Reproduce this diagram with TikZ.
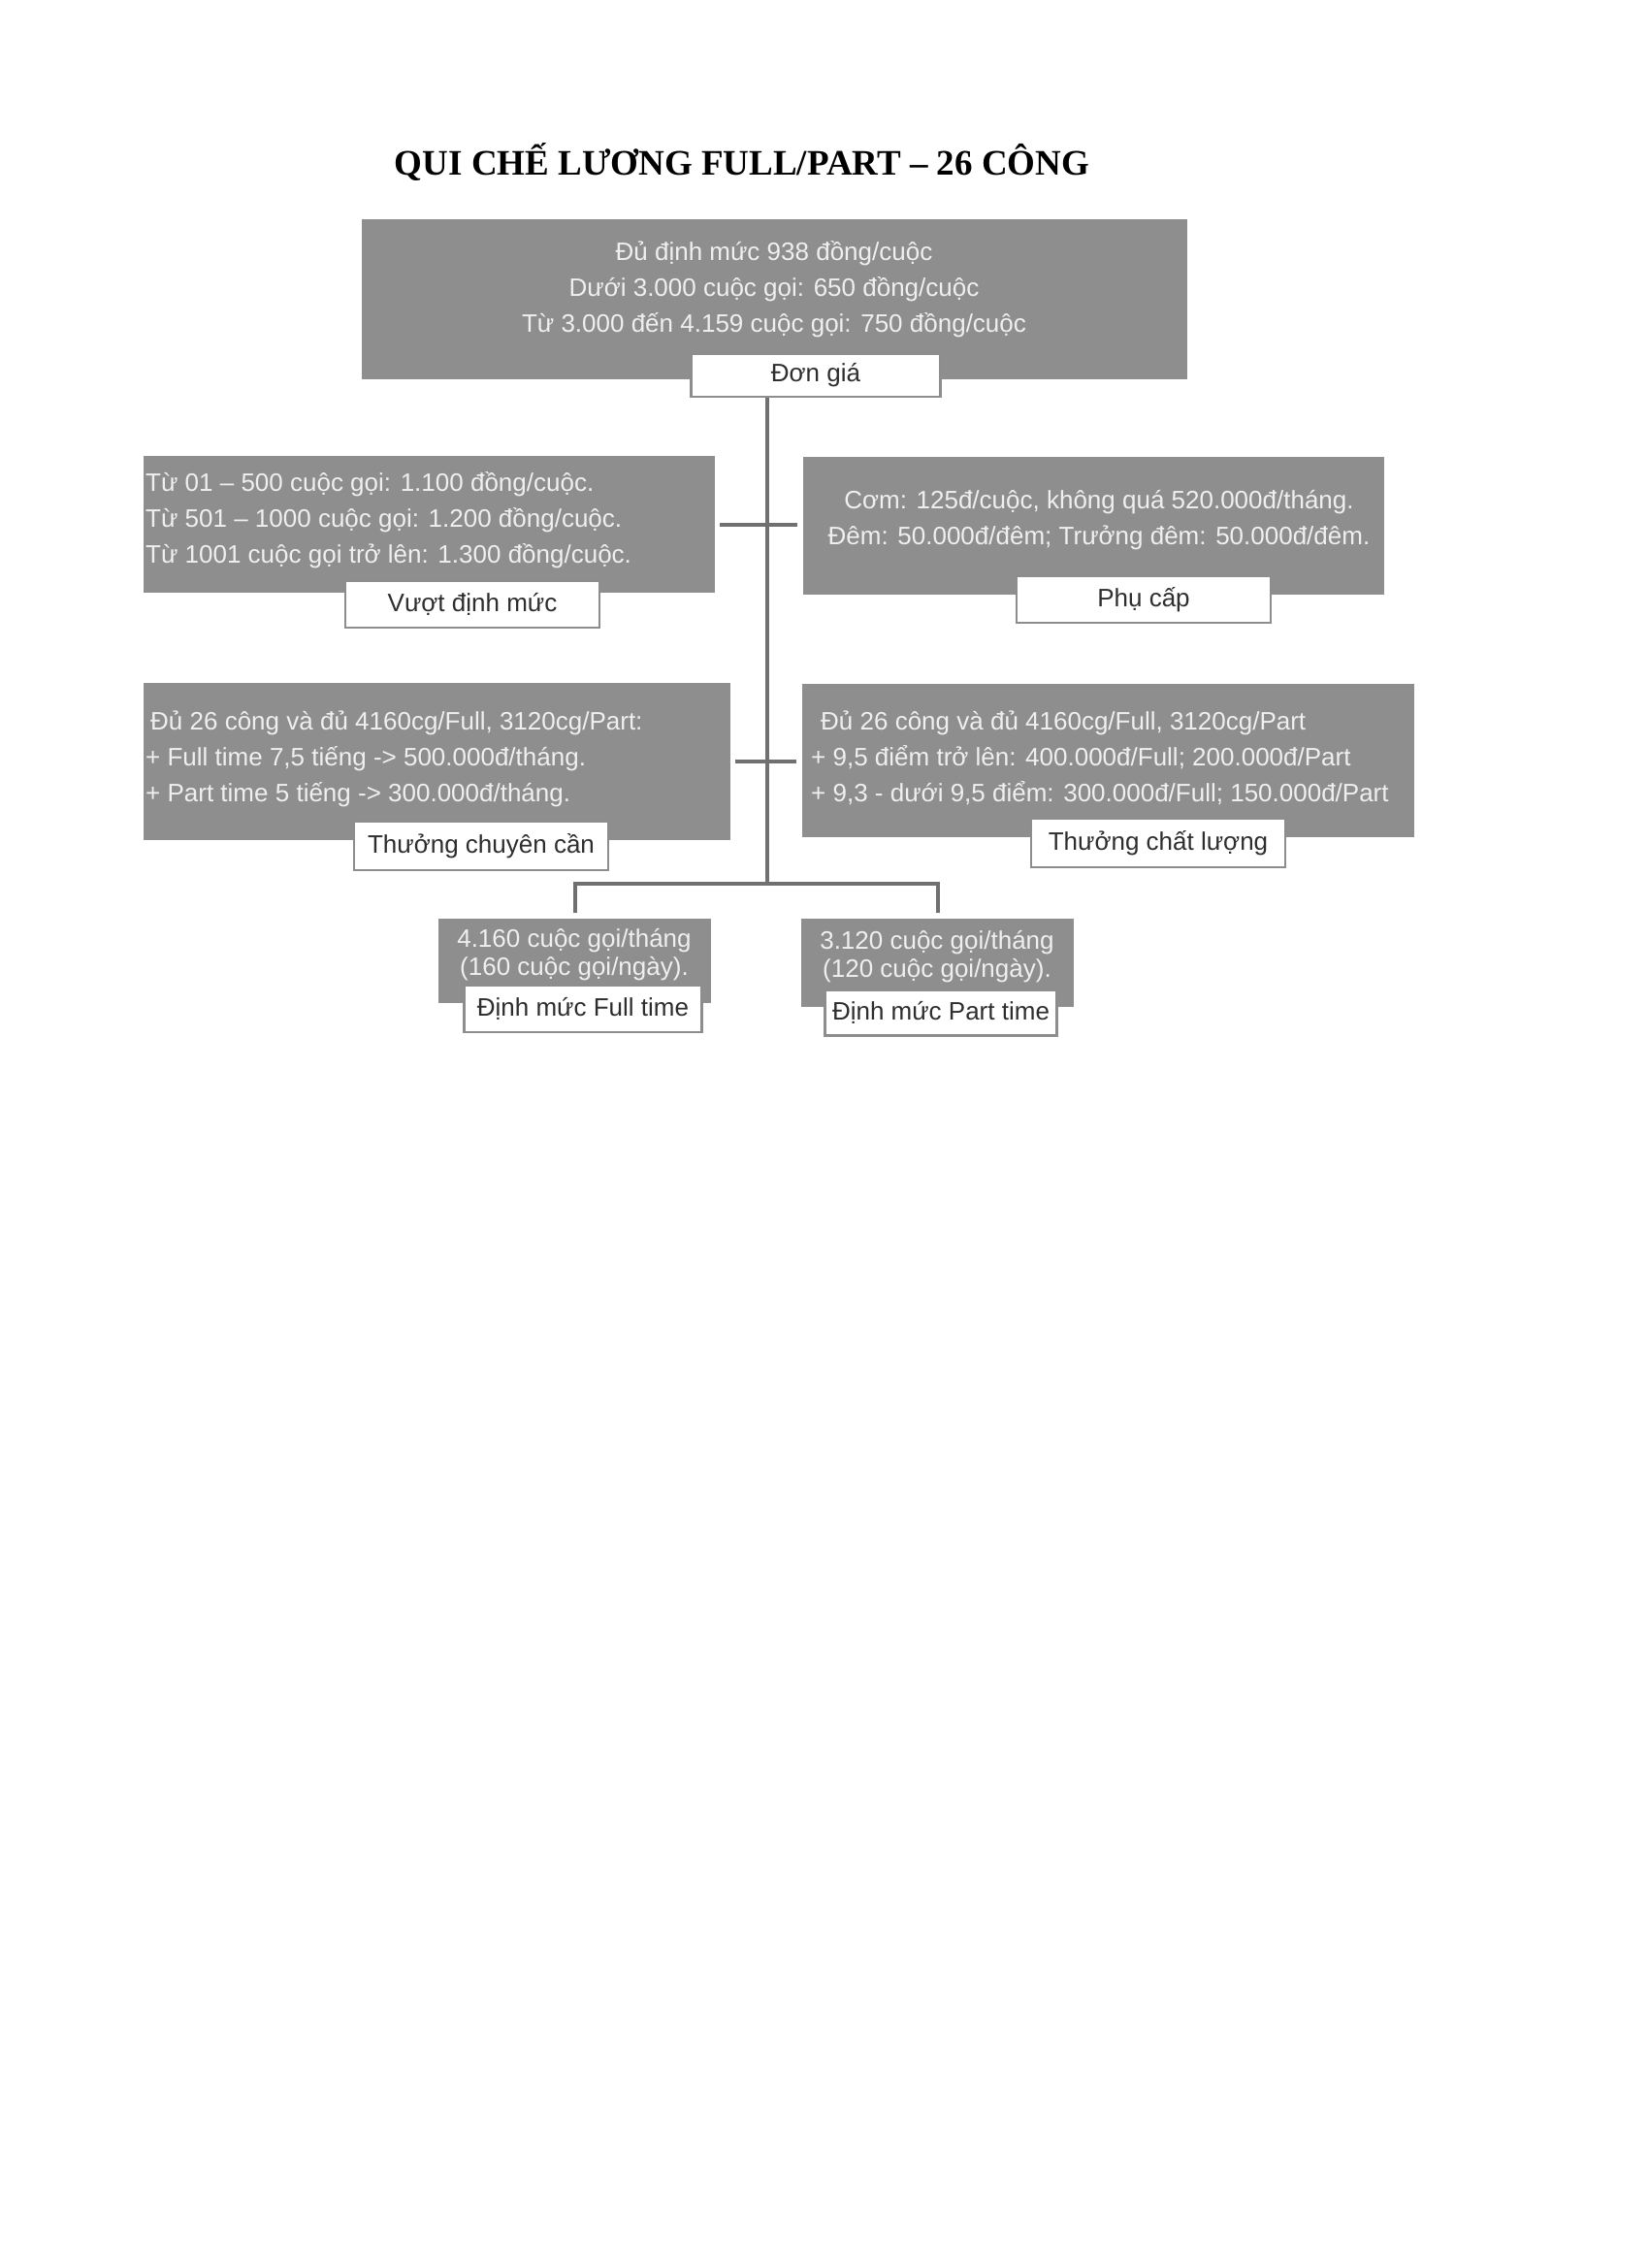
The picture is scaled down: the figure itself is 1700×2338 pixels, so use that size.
\documentclass[tikz,border=0pt]{standalone}
\usepackage{fontspec}
\setmainfont{Liberation Sans}
\newfontfamily\titlefont{Liberation Serif}
\definecolor{panelgray}{HTML}{8E8E8E}
\definecolor{paneltxt}{HTML}{EFEFEF}
\definecolor{linkgray}{HTML}{707070}
\definecolor{tagtxt}{HTML}{2E2E2E}
\tikzset{
  panel/.style={fill=panelgray, draw=none, inner sep=0pt, anchor=north west},
  paneltext/.style={text=paneltxt, inner sep=0pt, font=\fontsize{26}{37}\selectfont},
  tag/.style={fill=white, draw=linkgray!80, line width=2.5pt, inner sep=0pt,
    text=tagtxt, font=\fontsize{26}{30}\selectfont},
  link/.style={draw=linkgray, line width=4pt},
}
\begin{document}
\begin{tikzpicture}[x=1pt, y=-1pt]
  \useasboundingbox (0,0) rectangle (1700,2338);

  \node (title) at (765,167) {\titlefont\bfseries\fontsize{37}{44}\selectfont QUI CHẾ LƯƠNG FULL/PART – 26 CÔNG};

  % don gia
  \node [panel, minimum width=851, minimum height=165] (dgbox) at (373,226) {};
  \node [paneltext, align=center] (dgtext) at (798,298)
    {Đủ định mức 938 đồng/cuộc\\Dưới 3.000 cuộc gọi: 650 đồng/cuộc\\Từ 3.000 đến 4.159 cuộc gọi: 750 đồng/cuộc};
  \node [tag, minimum width=257, minimum height=44] (dgtag) at (841,387) {Đơn giá};

  % vuot dinh muc, phu cap
  \node [panel, minimum width=589, minimum height=141] (vuot) at (148,470) {};
  \node [paneltext, align=left, anchor=west] (vuottext) at (150,536)
    {Từ 01 – 500 cuộc gọi: 1.100 đồng/cuộc.\\Từ 501 – 1000 cuộc gọi: 1.200 đồng/cuộc.\\Từ 1001 cuộc gọi trở lên: 1.300 đồng/cuộc.};
  \node [tag, minimum width=262, minimum height=48] (vuottag) at (487,623) {Vượt định mức};

  \node [panel, minimum width=599, minimum height=142] (phucap) at (828,471) {};
  \node [paneltext, align=center] (phucaptext) at (1133,536)
    {Cơm: 125đ/cuộc, không quá 520.000đ/tháng.\\Đêm: 50.000đ/đêm; Trưởng đêm: 50.000đ/đêm.};
  \node [tag, minimum width=262, minimum height=48] (phucaptag) at (1179,618) {Phụ cấp};

  % thuong
  \node [panel, minimum width=605, minimum height=162] (chuyencan) at (148,704) {};
  \node [paneltext, align=left, anchor=west] (cctext) at (150,782)
    {\hspace*{5pt}Đủ 26 công và đủ 4160cg/Full, 3120cg/Part:\\+ Full time 7,5 tiếng -> 500.000đ/tháng.\\+ Part time 5 tiếng -> 300.000đ/tháng.};
  \node [tag, minimum width=262, minimum height=50] (cctag) at (496,872) {Thưởng chuyên cần};

  \node [panel, minimum width=631, minimum height=158] (chatluong) at (827,705) {};
  \node [paneltext, align=left, anchor=west] (cltext) at (836,781)
    {\hspace*{10pt}Đủ 26 công và đủ 4160cg/Full, 3120cg/Part\\+ 9,5 điểm trở lên: 400.000đ/Full; 200.000đ/Part\\+ 9,3 - dưới 9,5 điểm: 300.000đ/Full; 150.000đ/Part};
  \node [tag, minimum width=262, minimum height=50] (cltag) at (1194,869) {Thưởng chất lượng};

  % dinh muc
  \node [panel, minimum width=281, minimum height=87] (fullbox) at (452,947) {};
  \node [paneltext, align=center, font=\fontsize{26}{29}\selectfont] (fulltext) at (592,984)
    {4.160 cuộc gọi/tháng\\(160 cuộc gọi/ngày).};
  \node [tag, minimum width=245, minimum height=48] (fulltag) at (601,1040) {Định mức Full time};

  \node [panel, minimum width=281, minimum height=91] (partbox) at (826,947) {};
  \node [paneltext, align=center, font=\fontsize{26}{29}\selectfont] (parttext) at (966,986)
    {3.120 cuộc gọi/tháng\\(120 cuộc gọi/ngày).};
  \node [tag, minimum width=239, minimum height=47] (parttag) at (970,1044) {Định mức Part time};

  % connectors
  \coordinate (fork) at (791,911);
  \draw [link] (fork |- dgtag.south) -- (fork);
  \draw [link] ([xshift=5pt]vuot.east) -- ([xshift=-6pt]vuot.east -| phucap.west);
  \draw [link] ([xshift=5pt]chuyencan.east) -- ([xshift=-6pt]chuyencan.east -| chatluong.west);
  \draw [link] ([yshift=6pt]fullbox.north) |- (fork) -| ([yshift=6pt]partbox.north);
\end{tikzpicture}
\end{document}
